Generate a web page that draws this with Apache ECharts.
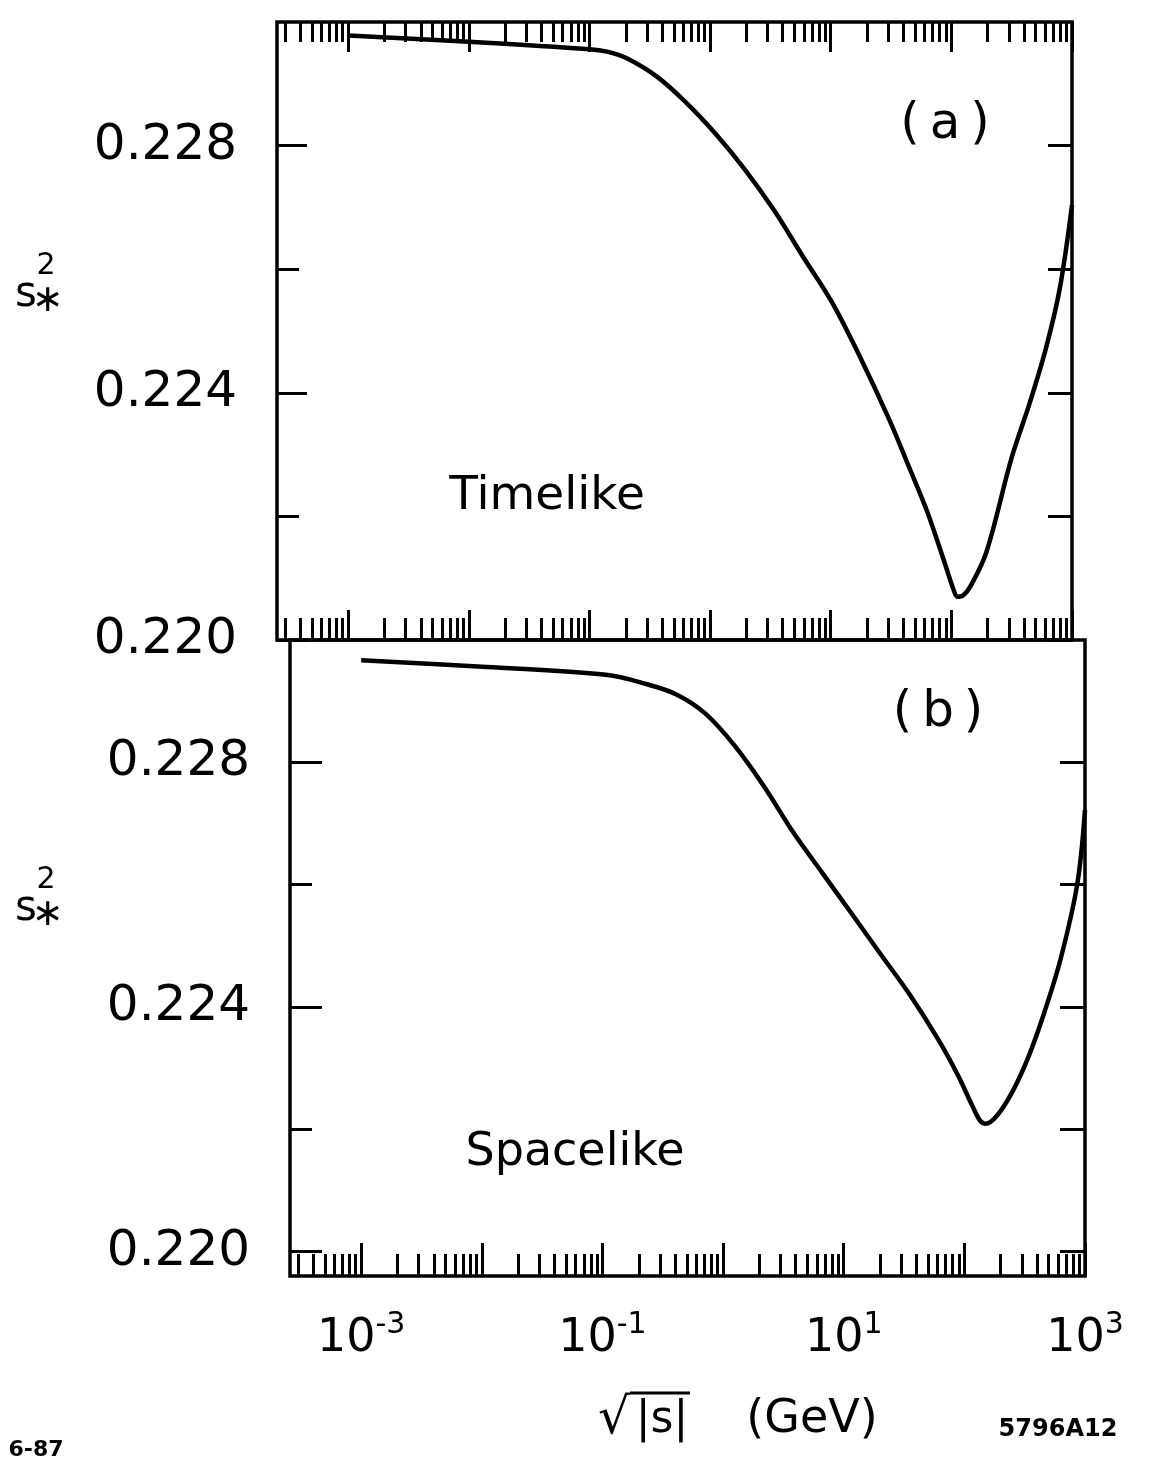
<!DOCTYPE html>
<html>
<head>
<meta charset="utf-8">
<script src="https://cdn.jsdelivr.net/npm/echarts@6/dist/echarts.min.js"></script>
<style>
  html, body { margin: 0; padding: 0; background: #fff; }
  #chart { width: 1152px; height: 1463px; }
</style>
</head>
<body>
<div id="chart"></div>
<script>
// sqrt|s| in GeV, s*^2
const timelikeX = [0.001, 0.01, 0.1, 0.14, 0.2, 0.36, 0.63, 1.1, 1.93, 3.37, 5.86, 10.2, 17.7, 30.5, 43.9, 63, 90, 104, 112, 125, 145, 195, 316, 447, 610, 794, 1000];
const timelikeS2 = [0.22978, 0.22968, 0.22956, 0.22952, 0.22942, 0.22912, 0.2287, 0.2282, 0.22762, 0.22696, 0.22621, 0.22547, 0.22456, 0.22357, 0.22283, 0.22208, 0.22119, 0.22082, 0.2207, 0.22072, 0.22088, 0.22142, 0.22295, 0.22384, 0.22473, 0.2257, 0.22704];
const spacelikeX = [0.001, 0.011, 0.107, 0.23, 0.41, 0.71, 1.25, 2.18, 3.8, 6.6, 11.5, 20.1, 35, 61, 88, 116, 135, 150, 186, 251, 339, 460, 631, 863, 1000];
const spacelikeS2 = [0.22967, 0.22956, 0.22943, 0.22928, 0.22911, 0.2288, 0.22827, 0.22761, 0.22686, 0.2262, 0.22554, 0.22487, 0.22421, 0.22346, 0.22289, 0.22239, 0.22214, 0.22209, 0.22222, 0.22262, 0.22318, 0.22391, 0.2248, 0.22601, 0.22722];

// axis decorations
const xLabelExps = [-3, -1, 1, 3];
const yLabelValues = [0.220, 0.224, 0.228];
const yMinorValues = [0.222, 0.226];
const yRightValues = [0.220, 0.222, 0.224, 0.226, 0.228];

const X_LO = -3.59, X_HI = 3;            // log10 range of the x axes
const FONT = 'DejaVu Sans';

// decade and 2..9 sub-decade positions, in log10 units
const decades = [], subDecades = [];
for (let d = -4; d <= 3; d++) {
  if (d >= X_LO && d <= X_HI) decades.push(d);
  for (let k = 2; k <= 9; k++) {
    const v = d + Math.log10(k);
    if (v > X_LO && v < X_HI) subDecades.push(v);
  }
}

const chart = echarts.init(document.getElementById('chart'));

function tickX (grid, pos, values, len, extra) {
  return Object.assign({
    type: 'value', gridIndex: grid, position: pos, min: X_LO, max: X_HI,
    axisLine: { show: false, onZero: false },
    axisTick: { show: true, inside: true, length: len, customValues: values, lineStyle: { color: '#000', width: 3 } },
    axisLabel: { show: false },
    splitLine: { show: false }
  }, extra || {})
}
function tickY (grid, pos, min, values, len, extra) {
  return Object.assign({
    type: 'value', gridIndex: grid, position: pos, min: min, max: 0.230,
    axisLine: { show: false, onZero: false },
    axisTick: { show: true, inside: true, length: len, customValues: values, lineStyle: { color: '#000', width: 3 } },
    axisLabel: { show: false },
    splitLine: { show: false }
  }, extra || {})
}
const yLabel = {
  show: true, customValues: yLabelValues, margin: 40,
  color: '#000', fontFamily: FONT, fontSize: 50,
  formatter: v => v.toFixed(3)
};
const logX = grid => ({
  type: 'log', logBase: 10, gridIndex: grid, min: Math.pow(10, X_LO), max: 1000,
  axisLine: { show: false, onZero: false }, axisTick: { show: false },
  axisLabel: { show: false }, splitLine: { show: false }
});

function txt (x, y, text, size, extra) {
  return {
    type: 'text', x: x, y: y,
    style: Object.assign({ text: text, fontFamily: FONT, fontSize: size, fill: '#000', align: 'center', verticalAlign: 'middle' }, extra || {})
  }
}

chart.setOption({
  animation: false,
  backgroundColor: '#fff',
  grid: [
    { left: 277, top: 22, width: 795, height: 618, show: true, borderColor: '#000', borderWidth: 3.5 },
    { left: 290, top: 640, width: 795, height: 636, show: true, borderColor: '#000', borderWidth: 3.5 }
  ],
  xAxis: [
    logX(0),
    tickX(0, 'top', decades, 30),
    tickX(0, 'top', subDecades, 20),
    tickX(0, 'bottom', decades, 30),
    tickX(0, 'bottom', subDecades, 22),
    logX(1),
    tickX(1, 'bottom', decades, 33, {
      axisLabel: {
        show: true, customValues: xLabelExps, margin: 34,
        formatter: v => '{b|10}{s|' + v + '}',
        rich: {
          b: { fontFamily: FONT, fontSize: 46, color: '#000', lineHeight: 58 },
          s: { fontFamily: FONT, fontSize: 30, color: '#000', verticalAlign: 'top', lineHeight: 30 }
        }
      }
    }),
    tickX(1, 'bottom', subDecades, 22)
  ],
  yAxis: [
    tickY(0, 'left', 0.220, yLabelValues, 30, { axisLabel: yLabel }),
    tickY(0, 'left', 0.220, yMinorValues, 22),
    tickY(0, 'right', 0.220, yRightValues, 24),
    tickY(1, 'left', 0.2196, yLabelValues, 32, { axisLabel: yLabel }),
    tickY(1, 'left', 0.2196, yMinorValues, 22),
    tickY(1, 'right', 0.2196, yRightValues, 25)
  ],
  series: [
    {
      name: 'Timelike', type: 'line', xAxisIndex: 0, yAxisIndex: 0,
      data: timelikeX.map((x, i) => [x, timelikeS2[i]]),
      smooth: 0.35, showSymbol: false,
      lineStyle: { color: '#000', width: 4.5 }
    },
    {
      name: 'Spacelike', type: 'line', xAxisIndex: 5, yAxisIndex: 3,
      data: spacelikeX.map((x, i) => [x, spacelikeS2[i]]),
      smooth: 0.35, showSymbol: false,
      lineStyle: { color: '#000', width: 4.5 }
    }
  ],
  graphic: [
    txt(945, 125, '(\u2009a\u2009)', 50),
    txt(938, 713, '(\u2009b\u2009)', 50),
    txt(547, 497, 'Timelike', 47),
    txt(575, 1153, 'Spacelike', 46),
    // y axis name s*^2, top and bottom
    txt(26, 295, 's', 42), txt(46, 266, '2', 30), txt(48, 301, '\u2217', 38),
    txt(26, 909, 's', 42), txt(46, 880, '2', 30), txt(48, 915, '\u2217', 38),
    // x axis name sqrt|s| (GeV)
    txt(614, 1420, '\u221A', 50),
    { type: 'line', shape: { x1: 630, y1: 1393, x2: 690, y2: 1393 }, style: { stroke: '#000', lineWidth: 3 } },
    txt(662, 1421, '|s|', 44),
    txt(812, 1420, '(GeV)', 46),
    txt(36, 1450, '6-87', 22, { fontWeight: 'bold' }),
    txt(1058, 1430, '5796A12', 24, { fontWeight: 'bold' })
  ]
});
</script>
</body>
</html>
